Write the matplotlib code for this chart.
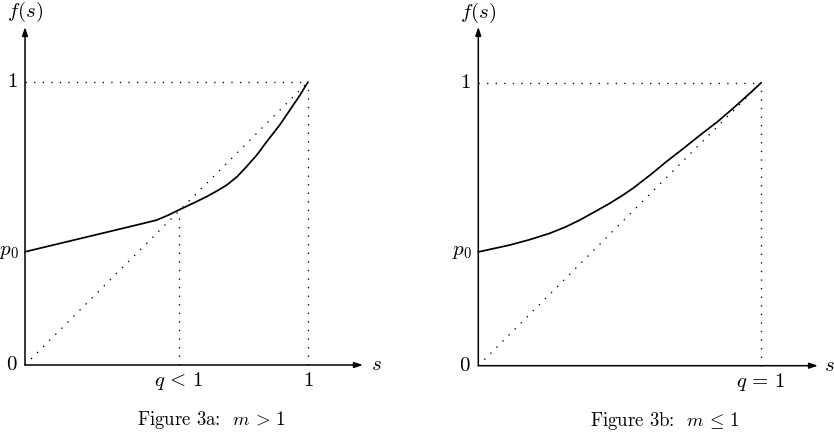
import matplotlib
matplotlib.use("Agg")
import matplotlib.pyplot as plt

plt.rcParams['mathtext.fontset'] = 'cm'
plt.rcParams['font.family'] = 'cmr10'
plt.rcParams['axes.formatter.use_mathtext'] = True

# ---- data ----
p0 = 0.40
# Figure 3a (m > 1)
s_a = [0.0, 0.10, 0.20, 0.30, 0.40, 0.465, 0.505, 0.548, 0.595, 0.642, 0.68,
       0.713, 0.75, 0.783, 0.82, 0.854, 0.90, 0.936, 0.97, 1.0]
f_a = [0.400, 0.424, 0.448, 0.472, 0.496, 0.512, 0.529, 0.550, 0.572, 0.595, 0.616,
       0.636, 0.666, 0.701, 0.743, 0.789, 0.848, 0.901, 0.951, 1.0]
q_a = 0.545
# Figure 3b (m <= 1)
s_b = [0.0, 0.05, 0.112, 0.18, 0.253, 0.31, 0.359, 0.41, 0.465, 0.51, 0.548,
       0.61, 0.666, 0.725, 0.784, 0.845, 0.901, 0.95, 1.0]
f_b = [0.402, 0.413, 0.4265, 0.445, 0.468, 0.491, 0.515, 0.543, 0.574, 0.602, 0.628,
       0.676, 0.722, 0.768, 0.815, 0.862, 0.910, 0.954, 1.0]
q_b = 1.0

diag = [0.0, 1.0]
captions = [r'Figure 3a:  $m \, > \, 1$', r'Figure 3b:  $m \, \leq \, 1$']
qlabels = [r'$q \, < \, 1$', r'$q \, = \, 1$']

W, H = 834, 440
fig = plt.figure(figsize=(W / 100, H / 100), dpi=100)

scale = 283.0
panels = [
    dict(x0=25.0, y0=365.0, left=0, width=400, s=s_a, f=f_a, q=q_a,
         ax_end=1.194, ay_end=1.194),
    dict(x0=478.3, y0=365.7, left=417, width=417, s=s_b, f=f_b, q=q_b,
         ax_end=1.200, ay_end=1.197),
]

dot = (0, (1.0, 5.5))
fs = 15
fs_cap = 13.5

for i, P in enumerate(panels):
    ax = fig.add_axes([P['left'] / W, 0, P['width'] / W, 1])
    ax.set_xlim((P['left'] - P['x0']) / scale, (P['left'] + P['width'] - P['x0']) / scale)
    ax.set_ylim((P['y0'] - H) / scale, P['y0'] / scale)
    ax.axis('off')

    # axes arrows
    ax.annotate('', xy=(P['ax_end'], 0), xytext=(0, 0),
                arrowprops=dict(arrowstyle='-|>,head_length=0.5,head_width=0.17',
                                lw=1.1, color='black', shrinkA=0, shrinkB=0))
    ax.annotate('', xy=(0, P['ay_end']), xytext=(0, 0),
                arrowprops=dict(arrowstyle='-|>,head_length=0.5,head_width=0.17',
                                lw=1.1, color='black', shrinkA=0, shrinkB=0))

    # dotted guides
    ax.plot(diag, diag, color='black', lw=0.95, linestyle=dot)
    ax.plot([0, 1], [1, 1], color='black', lw=0.95, linestyle=dot)
    ax.plot([1, 1], [0, 1], color='black', lw=0.95, linestyle=dot)
    if P['q'] < 1:
        ax.plot([P['q'], P['q']], [0, P['q']], color='black', lw=0.95, linestyle=dot)

    # curve
    ax.plot(P['s'], P['f'], color='black', lw=1.25, solid_capstyle='round',
            solid_joinstyle='round')

    # labels
    ax.text(0, 1.247, r'$f(s)$', ha='center', va='center', fontsize=fs)
    ax.text(1.242, 0.0, r'$s$', ha='center', va='center', fontsize=fs)
    ax.text(-0.027, 1.0, r'$1$', ha='right', va='center', fontsize=fs)
    ax.text(-0.021, p0, r'$p_0$', ha='right', va='center', fontsize=fs)
    ax.text(-0.027, 0.0, r'$0$', ha='right', va='center', fontsize=fs)
    ax.text(P['q'], -0.058, qlabels[i], ha='center', va='center', fontsize=fs)
    if P['q'] < 1:
        ax.text(1.0, -0.058, r'$1$', ha='center', va='center', fontsize=fs)
    ax.text(0.66, -0.194, captions[i], ha='center', va='center', fontsize=fs_cap)

fig.savefig('out.png', dpi=100)
